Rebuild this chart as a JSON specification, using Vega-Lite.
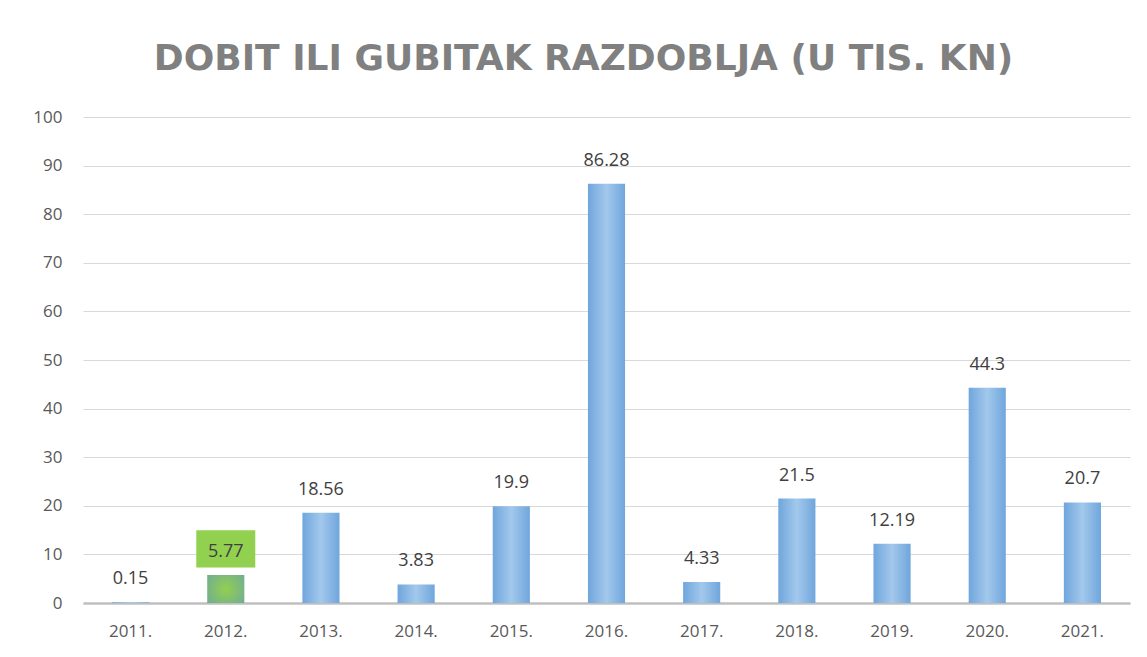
{
  "$schema": "https://vega.github.io/schema/vega-lite/v6.json",
  "width": 1047,
  "height": 486,
  "autosize": "none",
  "padding": {"left": 83, "top": 117, "right": 17, "bottom": 54},
  "background": "white",
  "config": {"view": {"stroke": null}},
  "title": {
    "text": "DOBIT ILI GUBITAK RAZDOBLJA (U TIS. KN)",
    "font": "DejaVu Sans",
    "fontSize": 36,
    "fontWeight": "bold",
    "color": "#808080",
    "anchor": "middle",
    "frame": "group",
    "offset": 30,
    "dx": -23
  },
  "data": {
    "values": [
      {"year": "2011.", "value": 0.15},
      {"year": "2012.", "value": 5.77},
      {"year": "2013.", "value": 18.56},
      {"year": "2014.", "value": 3.83},
      {"year": "2015.", "value": 19.9},
      {"year": "2016.", "value": 86.28},
      {"year": "2017.", "value": 4.33},
      {"year": "2018.", "value": 21.5},
      {"year": "2019.", "value": 12.19},
      {"year": "2020.", "value": 44.3},
      {"year": "2021.", "value": 20.7}
    ]
  },
  "encoding": {
    "x": {
      "field": "year",
      "type": "nominal",
      "scale": {
        "domain": ["2011.", "2012.", "2013.", "2014.", "2015.", "2016.", "2017.", "2018.", "2019.", "2020.", "2021."],
        "paddingInner": 0.61,
        "paddingOuter": 0.305
      },
      "axis": {
        "title": null,
        "labelAngle": 0,
        "labelFont": "Open Sans",
        "labelFontSize": 17,
        "labelColor": "#595959",
        "labelPadding": 20,
        "ticks": false,
        "domainColor": "#bfbfbf",
        "domainWidth": 2.5,
        "grid": false
      }
    },
    "y": {
      "field": "value",
      "type": "quantitative",
      "scale": {"domain": [0, 100], "nice": false},
      "axis": {
        "title": null,
        "values": [0, 10, 20, 30, 40, 50, 60, 70, 80, 90, 100],
        "labelFont": "Open Sans",
        "labelFontSize": 17,
        "labelColor": "#595959",
        "labelPadding": 21,
        "ticks": false,
        "domain": false,
        "gridColor": "#d9d9d9",
        "gridWidth": 1
      }
    }
  },
  "layer": [
    {
      "transform": [{"filter": "datum.year != '2012.'"}],
      "mark": {
        "type": "bar",
        "fill": {
          "gradient": "linear",
          "x1": 0, "x2": 1, "y1": 0, "y2": 0,
          "stops": [
            {"offset": 0, "color": "#6fa6dc"},
            {"offset": 0.5, "color": "#a3c8ec"},
            {"offset": 1, "color": "#6fa6dc"}
          ]
        }
      }
    },
    {
      "transform": [{"filter": "datum.year == '2012.'"}],
      "mark": {
        "type": "bar",
        "fill": {
          "gradient": "radial",
          "x1": 0.5, "y1": 0.5, "r1": 0,
          "x2": 0.5, "y2": 0.5, "r2": 0.75,
          "stops": [
            {"offset": 0, "color": "#92d050"},
            {"offset": 1, "color": "#6aa5a0"}
          ]
        }
      }
    },
    {
      "transform": [{"filter": "datum.year == '2012.'"}],
      "mark": {
        "type": "point",
        "shape": "M-1,-0.63L1,-0.63L1,0.63L-1,0.63Z",
        "size": 3481,
        "filled": true,
        "color": "#92d050",
        "opacity": 1,
        "yOffset": -26
      }
    },
    {
      "mark": {
        "type": "text",
        "font": "Open Sans",
        "fontSize": 18,
        "color": "#404040",
        "baseline": "middle",
        "dy": -23
      },
      "encoding": {"text": {"field": "value", "type": "quantitative"}}
    }
  ]
}
